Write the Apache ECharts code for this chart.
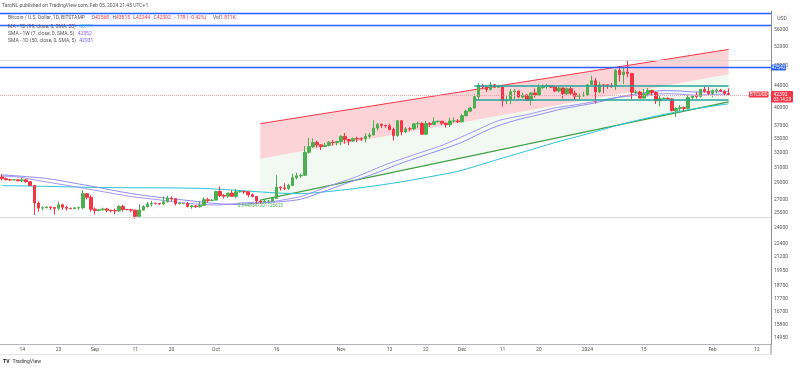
<!DOCTYPE html>
<html>
<head>
<meta charset="utf-8">
<script src="https://cdn.jsdelivr.net/npm/echarts@6/dist/echarts.min.js"></script>
<style>html,body{margin:0;padding:0;background:#fff}#c{width:800px;height:370px}</style>
</head>
<body>
<div id="c"></div>
<script>
// ---------- DATA ----------
const START_DATE = '2023-08-09';   // first category (first candle)
const AXIS_DAYS = 191;             // categories on the time axis (incl. empty future days)

// daily candles Aug 9 2023 .. Feb 5 2024
const OPEN = [
 29780,29560,29430,29400,29420,29290,29410,29180,28710,26640,26060,26100,26190,26130,26040,26430,26160,26050,26000,26090,26110,27720,27300,
 25940,25800,25870,25970,25820,25780,25750,26240,25910,25900,25840,25160,25840,26230,26530,26600,26570,26530,26770,27210,27130,26570,26580,26580,26250,26300,26220,26370,27020,26910,
 26970,27990,27500,27430,27790,27410,27950,27970,27940,27590,27390,26870,26750,26860,26860,27160,28510,28420,28330,28720,29680,29920,29990,33090,33900,34500,34160,33910,34090,34540,34500,
 34660,35430,34940,34730,35080,35050,35040,35420,35650,36700,37320,37130,37070,36490,35550,37880,36150,36600,36580,37380,37450,35750,37420,37290,37720,37800,37480,37250,37830,37850,
 37720,38690,39470,39980,41980,44080,43770,43290,44170,43720,43790,41240,41450,42890,43020,41940,42260,41360,42660,42270,43650,43860,43990,43740,43010,43580,42520,43440,42580,42070,42140,
 42280,44180,44950,42850,44180,44160,43960,43930,46970,46120,46660,46340,42780,42840,41730,42500,43150,42740,41260,41620,41670,41580,39530,39900,40080,39940,41820,42120,42030,43300,42940,
 42570,43080,43180,42990,42568
];
const HIGH = [
 30130,29700,29540,29480,29460,29690,29470,29240,28780,26820,26260,26290,26250,26140,26800,26560,26300,26090,26170,26230,28140,27760,27560,
 26130,25970,26120,26090,25880,26000,26420,26440,25940,26000,25880,26540,26400,26780,26880,26670,26620,27420,27490,27380,27160,26720,26640,26740,26430,26390,26830,27310,27230,27090,
 28060,28590,27670,27820,28120,28290,28020,28100,27990,27740,27470,26950,27100,26970,27280,30000,28600,28970,28920,30200,30330,30200,34000,35200,35130,34800,34220,34470,34740,34850,34700,
 35580,35950,34950,35260,35380,35280,35880,35980,37950,37520,37400,37230,37420,36750,37980,37930,36850,36860,37530,37740,37640,37880,37660,38420,37900,37830,37570,38370,38420,38150,
 38960,39690,40200,42420,44480,44300,44040,44700,44360,44040,43790,42100,43430,43400,43090,42720,42430,42750,43480,44280,44230,44380,44020,43940,43790,43600,43680,43800,43120,42600,42880,
 44200,45900,45500,44770,44340,44220,44500,47250,47890,47700,48970,46500,43250,43080,43400,43570,43200,42930,42170,41860,41850,41700,40130,40520,40280,42200,42200,42840,43310,43880,43740,
 43290,43480,43380,43110,43515
];
const LOW = [
 29360,29340,29250,29360,29250,29110,29060,28700,25300,25650,25800,26050,25850,25350,25800,25870,25780,25980,25960,25860,25920,27050,25670,
 25350,25720,25800,25600,25580,25390,25620,25660,25800,25600,24900,25130,25760,26130,26240,26480,26410,26390,26680,26850,26360,26480,26500,26130,25990,26090,26120,26340,26680,26890,
 26950,27330,27160,27220,27380,27180,27860,27700,27300,27300,26560,26560,26700,26820,26830,27120,28090,28150,28180,28630,29480,29660,29900,32880,33700,33770,33410,33880,33940,34070,34080,
 34100,34320,34110,34580,34540,34730,34530,35130,35560,36350,36720,36760,36340,34800,35370,35570,35900,36200,36400,36740,35670,35660,36890,37260,37600,37160,36760,36880,37570,37510,
 37610,38650,39280,39980,41420,43340,42860,43110,43600,43590,40230,40690,40660,41510,41700,41690,41250,40530,41830,42190,43340,43430,43590,42800,42760,41660,42100,42320,41450,41550,41980,
 42180,44170,40750,42630,42600,43420,43600,43200,44800,44300,45600,41500,42440,41720,41720,42050,42200,40680,40270,41440,41450,39450,38500,39490,39500,39820,41400,41640,41800,42700,42300,
 41880,42580,42890,42220,42244
];
const CLOSE = [
 29560,29430,29400,29420,29290,29410,29180,28710,26640,26060,26100,26190,26130,26040,26430,26160,26050,26000,26090,26110,27720,27300,25940,
 25800,25870,25970,25820,25780,25750,26240,25910,25900,25840,25160,25840,26230,26530,26600,26570,26530,26770,27210,27130,26570,26580,26580,26250,26300,26220,26370,27020,26910,26970,
 27990,27500,27430,27790,27410,27950,27970,27940,27590,27390,26870,26750,26860,26860,27160,28510,28420,28330,28720,29680,29920,29990,33090,33900,34500,34160,33910,34090,34540,34500,34660,
 35430,34940,34730,35080,35050,35040,35420,35650,36700,37320,37130,37070,36490,35550,37880,36150,36600,36580,37380,37450,35750,37420,37290,37720,37800,37480,37250,37830,37850,37720,
 38690,39470,39980,41980,44080,43770,43290,44170,43720,43790,41240,41450,42890,43020,41940,42260,41360,42660,42270,43650,43860,43990,43740,43010,43580,42520,43440,42580,42070,42140,42280,
 44180,44950,42850,44180,44160,43960,43930,46970,46120,46660,46340,42780,42840,41730,42500,43150,42740,41260,41620,41670,41580,39530,39900,40080,39940,41820,42120,42030,43300,42940,42570,
 43080,43180,42990,42570,42392
];

// SMA 50 (daily)
const SMA50_DATES = ['2023-08-09','2023-08-20','2023-08-27','2023-09-01','2023-09-08','2023-09-15','2023-09-25','2023-10-01','2023-10-06','2023-10-12','2023-10-17','2023-10-22','2023-10-27','2023-11-03','2023-11-09','2023-11-15','2023-11-21','2023-11-27','2023-12-01','2023-12-08','2023-12-14','2023-12-20','2023-12-26','2024-01-01','2024-01-05','2024-01-10','2024-01-15','2024-01-20','2024-01-24','2024-01-28','2024-02-01','2024-02-05'];
const SMA50_VALUES = [30050,29590,28985,28550,27900,27400,26880,26575,26470,26645,26790,27070,27870,29100,30145,31400,32545,33695,34565,36600,37905,38870,39880,40625,41225,42105,42675,43095,43005,42825,42875,42931];

// SMA 7 (weekly)
const SMA7W_DATES = ['2023-08-09','2023-08-13','2023-08-20','2023-08-27','2023-09-03','2023-09-10','2023-09-17','2023-09-24','2023-10-01','2023-10-08','2023-10-15','2023-10-22','2023-10-29','2023-11-05','2023-11-12','2023-11-19','2023-11-26','2023-12-03','2023-12-10','2023-12-17','2023-12-24','2023-12-31','2024-01-07','2024-01-14','2024-01-21','2024-01-28','2024-02-04','2024-02-05'];
const SMA7W_VALUES = [29900,29775,29145,28565,27955,27385,26995,26595,26410,26660,26810,27385,28630,29845,31390,32735,34095,35925,37900,38875,40010,40755,41690,42295,42525,42275,42445,42352];

// MA 99 (daily)
const MA99_DATES = ['2023-08-09','2023-08-20','2023-09-03','2023-09-27','2023-10-09','2023-10-16','2023-10-22','2023-10-29','2023-11-06','2023-11-16','2023-11-28','2023-12-01','2023-12-11','2023-12-18','2023-12-25','2024-01-01','2024-01-08','2024-01-15','2024-01-25','2024-02-05'];
const MA99_VALUES = [28700,28600,28460,28360,28030,27810,27730,27990,28440,29170,30290,30650,32290,33450,34665,35800,37045,38195,39575,40711];

// regression trend (start, end)
const REG_DATES = ['2023-10-12','2024-02-05'];
const REG_UPPER = [37410, 51390];
const REG_MID   = [32190, 46220];
const REG_LOWER = [26970, 41050];
const PEARSON_R = '0.8448547201126613';

// horizontal levels
const BLUE_LEVELS = [59800, 57000, 47542];
const GREY_LEVELS = [49000, 25000];
const LAST_PRICE = 42392;
const RANGE_DATES = ['2023-12-04','2024-02-05'];
const RANGE_LEVELS = [43900, 41450];

// axes
const Y_MIN = 14570, Y_MAX = 60576;
const Y_TICKS = [56000,52000,48000,44000,40000,37000,35000,33000,31000,29000,27000,25500,24000,22400,21200,19950,18700,17700,16700,15800,14950];
const X_TICK_DATES = ['2023-08-14','2023-08-23','2023-09-01','2023-09-11','2023-09-20','2023-10-01','2023-10-16','2023-11-01','2023-11-13','2023-11-22','2023-12-01','2023-12-11','2023-12-20','2024-01-01','2024-01-15','2024-02-01','2024-02-12'];
const X_TICK_LABELS = ['14','23','Sep','11','20','Oct','16','Nov','13','22','Dec','11','20','2024','15','Feb','12'];

// texts
const HEADER = 'TaroNL published on TradingView.com, Feb 05, 2024 21:45 UTC+1';
const SYMBOL_TITLE = 'Bitcoin / U.S. Dollar, 1D, BITSTAMP';
const OHLC_TEXT = {O:'42568', H:'43515', L:'42244', C:'42392', chg:'\u2212178 (\u22120.42%)', vol:'1.811K'};
const IND_TITLES = ['MA - 1D (99, close, 0, SMA, 20)','SMA - 1W (7, close, 0, SMA, 5)','SMA - 1D (50, close, 0, SMA, 5)'];
const IND_VALUES = ['40711','42352','42931'];
const COUNTDOWN = '03:14:29';

// ---------- BUILD ----------
const LN = Math.log;
const CATS = [];
{
  const p = START_DATE.split('-').map(Number);
  const t0 = Date.UTC(p[0], p[1]-1, p[2]);
  for (let i = 0; i < AXIS_DAYS; i++) CATS.push(new Date(t0 + i*86400000).toISOString().slice(0,10));
}
const candleData = CLOSE.map((c,i) => [LN(OPEN[i]), LN(c), LN(LOW[i]), LN(HIGH[i])]);
const pairs = (d, v) => d.map((x,i) => [x, LN(v[i])]);

const FONT = 'Roboto, "Liberation Sans", Arial, sans-serif';
const GREEN = '#4caf50', RED = '#f23645';

const option = {
  animation: false,
  backgroundColor: '#ffffff',
  grid: {left: -2, right: 29, top: 11, bottom: 26},
  xAxis: {
    type: 'category', data: CATS, boundaryGap: true,
    axisLine: {lineStyle: {color: '#b2b5be'}},
    axisTick: {show: false},
    splitLine: {show: false},
    axisLabel: {
      interval: (i, v) => X_TICK_DATES.indexOf(v) >= 0,
      formatter: v => X_TICK_LABELS[X_TICK_DATES.indexOf(v)],
      fontSize: 5, color: '#555', fontFamily: FONT, margin: 3
    }
  },
  yAxis: {
    type: 'value', position: 'right', min: LN(Y_MIN), max: LN(Y_MAX),
    splitLine: {show: false},
    axisLine: {show: true, lineStyle: {color: '#8a8d96'}},
    axisTick: {show: false},
    axisLabel: {
      customValues: Y_TICKS.map(LN),
      formatter: v => {
        let best = Y_TICKS[0];
        Y_TICKS.forEach(t => { if (Math.abs(LN(t)-v) < Math.abs(LN(best)-v)) best = t; });
        return String(best);
      },
      fontSize: 5, color: '#555', fontFamily: FONT, margin: 3
    }
  },
  series: [
    {
      name: 'regLower', type: 'line', stack: 'reg', z: 1,
      data: pairs(REG_DATES, REG_LOWER),
      symbol: 'none', lineStyle: {color: '#43a047', width: 1.2},
      markPoint: {
        symbol: 'circle', symbolSize: 0, silent: true,
        data: [{coord: [REG_DATES[0], LN(REG_LOWER[0])]}],
        label: {show: true, position: 'bottom', distance: 3, formatter: PEARSON_R, color: '#4caf50', fontSize: 4.6, fontFamily: FONT}
      }
    },
    {
      name: 'regMid', type: 'line', stack: 'reg', z: 1,
      data: REG_DATES.map((d,i) => [d, LN(REG_MID[i]) - LN(REG_LOWER[i])]),
      symbol: 'none', lineStyle: {width: 0, opacity: 0},
      areaStyle: {color: 'rgba(76,175,80,0.1)'}
    },
    {
      name: 'regUpper', type: 'line', stack: 'reg', z: 1,
      data: REG_DATES.map((d,i) => [d, LN(REG_UPPER[i]) - LN(REG_MID[i])]),
      symbol: 'none', lineStyle: {color: RED, width: 1},
      areaStyle: {color: 'rgba(242,54,69,0.3)'}
    },
    {
      name: 'MA99', type: 'line', z: 2, data: pairs(MA99_DATES, MA99_VALUES),
      symbol: 'none', smooth: 0.3, lineStyle: {color: '#2ec4d8', width: 1}
    },
    {
      name: 'SMA7W', type: 'line', z: 2, data: pairs(SMA7W_DATES, SMA7W_VALUES),
      symbol: 'none', smooth: 0.2, lineStyle: {color: '#a393f2', width: 1}
    },
    {
      name: 'SMA50', type: 'line', z: 2, data: pairs(SMA50_DATES, SMA50_VALUES),
      symbol: 'none', smooth: 0.3, lineStyle: {color: '#8f8df0', width: 1}
    },
    {
      name: 'BTCUSD', type: 'candlestick', z: 3, data: candleData,
      barWidth: '76%',
      itemStyle: {color: GREEN, color0: RED, borderColor: GREEN, borderColor0: RED, borderWidth: 1},
      markLine: {
        silent: true, symbol: ['none','none'], label: {show: false}, z: 4,
        data: [
          ...BLUE_LEVELS.map(v => ({yAxis: LN(v), lineStyle: {color: '#2962ff', width: 1.4, type: 'solid'}})),
          ...GREY_LEVELS.map(v => ({yAxis: LN(v), lineStyle: {color: '#d9d9dc', width: 1, type: 'solid'}})),
          {yAxis: LN(LAST_PRICE), lineStyle: {color: '#f7a6ad', width: 1, type: 'dotted'}},
          ...RANGE_LEVELS.map(v => [
            {coord: [RANGE_DATES[0], LN(v)], lineStyle: {color: '#26a69a', width: 1.5, type: 'solid'}},
            {coord: [RANGE_DATES[1], LN(v)]}
          ])
        ]
      }
    }
  ]
};

const chart = echarts.init(document.getElementById('c'));
chart.setOption(option);

const py = p => chart.convertToPixel({yAxisIndex: 0}, LN(p));
const AX = 771;
const yBlue = py(BLUE_LEVELS[2]);
const yLast = py(LAST_PRICE);
const txt = (x, y, text, fill, size, align, extra) => ({
  type: 'text', x: x, y: y, z: 100,
  style: Object.assign({text: text, fill: fill, fontSize: size, fontFamily: FONT, align: align || 'left', verticalAlign: 'middle'}, extra || {})
});
const FS = 5;
const legendRich = {
  n: {fill: '#555', fontSize: FS, fontFamily: FONT},
  k: {fill: '#555', fontSize: FS, fontFamily: FONT},
  r: {fill: RED, fontSize: FS, fontFamily: FONT},
  c: {fill: '#3fb6e8', fontSize: FS, fontFamily: FONT},
  p: {fill: '#8a5cf6', fontSize: FS, fontFamily: FONT},
  q: {fill: '#6a5cf6', fontSize: FS, fontFamily: FONT}
};
const row1 = '{n|' + SYMBOL_TITLE + '}  {k|O}{r|' + OHLC_TEXT.O + '} {k|H}{r|' + OHLC_TEXT.H + '} {k|L}{r|' + OHLC_TEXT.L + '} {k|C}{r|' + OHLC_TEXT.C + '} {r|' + OHLC_TEXT.chg + '}  {k|Vol}{r|' + OHLC_TEXT.vol + '}';

chart.setOption({
  graphic: [
    txt(2, 5.5, HEADER, '#555', 5),
    {type: 'text', x: 8, y: 17.5, z: 100, style: {text: row1, rich: legendRich, verticalAlign: 'middle'}},
    {type: 'text', x: 8, y: 26.5, z: 100, style: {text: '{n|' + IND_TITLES[0] + '} {c|' + IND_VALUES[0] + '}', rich: legendRich, verticalAlign: 'middle'}},
    {type: 'text', x: 8, y: 33.5, z: 100, style: {text: '{n|' + IND_TITLES[1] + '} {p|' + IND_VALUES[1] + '}', rich: legendRich, verticalAlign: 'middle'}},
    {type: 'text', x: 8, y: 41, z: 100, style: {text: '{n|' + IND_TITLES[2] + '} {q|' + IND_VALUES[2] + '}', rich: legendRich, verticalAlign: 'middle'}},
    // USD box
    {type: 'rect', z: 100, shape: {x: 773.5, y: 15, width: 17, height: 8, r: 1}, style: {fill: '#fff', stroke: '#e0e3eb', lineWidth: 0.6}},
    txt(782, 19, 'USD', '#555', 5, 'center'),
    // blue level box
    {type: 'rect', z: 100, shape: {x: AX, y: yBlue - 3, width: 15, height: 6, r: 0.8}, style: {fill: '#2962ff'}},
    txt(AX + 7.5, yBlue, String(BLUE_LEVELS[2]), '#fff', 5, 'center'),
    // last price box
    {type: 'rect', z: 100, shape: {x: AX, y: yLast - 3.3, width: 22, height: 11.5, r: 0.8}, style: {fill: RED}},
    txt(AX + 2.5, yLast, String(LAST_PRICE), '#fff', 5, 'left'),
    txt(AX + 2.5, yLast + 5.3, COUNTDOWN, '#fff', 4.6, 'left'),
    // symbol label
    {type: 'rect', z: 100, shape: {x: 749, y: yLast - 3, width: 19.5, height: 6.2, r: 0.8}, style: {fill: RED}},
    txt(758.7, yLast, 'BTCUSD', '#fff', 4.8, 'center'),
    // time-scale border + axis extension
    {type: 'line', z: 90, shape: {x1: 0, y1: 354.5, x2: AX, y2: 354.5}, style: {stroke: '#e0e3eb', lineWidth: 1}},
    {type: 'line', z: 90, shape: {x1: AX, y1: 344, x2: AX, y2: 354.5}, style: {stroke: '#8a8d96', lineWidth: 1}},
    // logo
    txt(3, 362, 'TV', '#131722', 5.2, 'left', {fontWeight: 'bold'}),
    txt(12.5, 362, 'TradingView', '#333', 5.2, 'left')
  ]
});
</script>
</body>
</html>
